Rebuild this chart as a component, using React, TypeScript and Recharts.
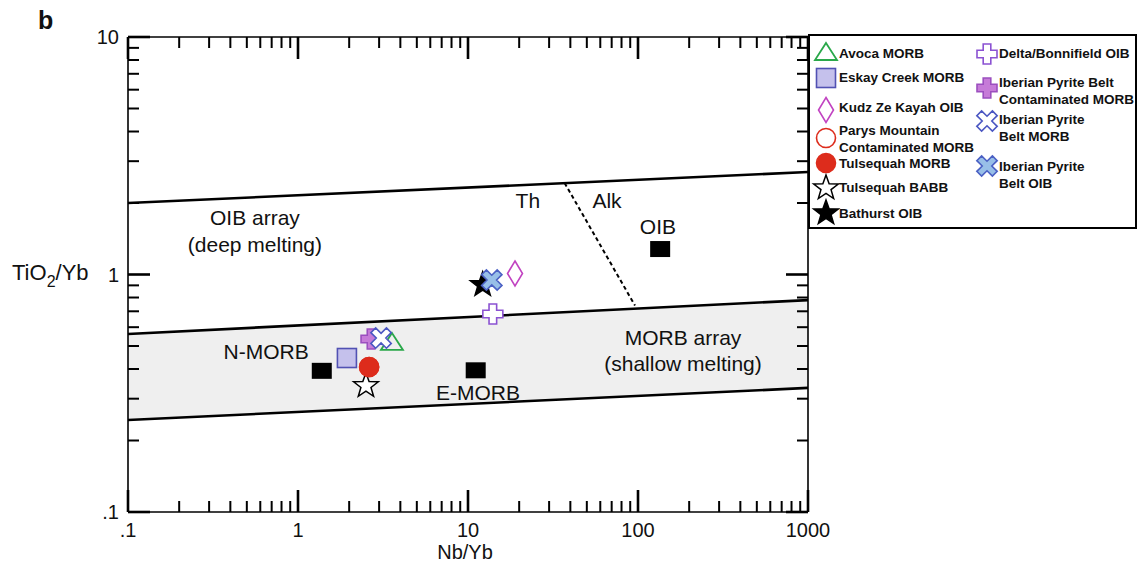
import React from 'react';
import { ComposedChart, XAxis, YAxis, Scatter, Line, Area } from 'recharts';

const FONT = '"Liberation Sans", Arial, Helvetica, sans-serif';

// tick values (log axes)
const xDecades = [0.1, 1, 10, 100];
const yDecades = [0.1, 1];
const multipliers = [1, 2, 3, 4, 5, 6, 7, 8, 9];
const xTicks = [...xDecades.flatMap((d) => multipliers.map((m) => +(d * m).toPrecision(3))), 1000];
const yTicks = [...yDecades.flatMap((d) => multipliers.map((m) => +(d * m).toPrecision(3))), 10];

// field boundaries
const oibArrayTop = [{ x: 0.1, y: 2.0 }, { x: 1000, y: 2.7 }];
const morbArrayTop = [{ x: 0.1, y: 0.562 }, { x: 1000, y: 0.78 }];
const morbArrayBottom = [{ x: 0.1, y: 0.244 }, { x: 1000, y: 0.333 }];
const morbBand = [{ x: 0.1, band: [0.244, 0.562] }, { x: 1000, band: [0.333, 0.78] }];
const thAlkDivide = [{ x: 37, y: 2.43 }, { x: 96, y: 0.74 }];

// reference compositions
const nMorb = [{ x: 1.38, y: 0.393 }];
const eMorb = [{ x: 11.1, y: 0.395 }];
const oib = [{ x: 135, y: 1.28 }];

// samples
const tulsequahBabb = [{ x: 2.51, y: 0.34 }];
const bathurstOib = [{ x: 12.2, y: 0.905 }];
const avocaMorb = [{ x: 3.57, y: 0.52 }];
const eskayCreekMorb = [{ x: 1.94, y: 0.445 }];
const kudzZeKayahOib = [{ x: 18.9, y: 1.01 }];
const parysMountain = [{ x: 2.62, y: 0.408 }];
const tulsequahMorb = [{ x: 2.62, y: 0.408 }];
const deltaBonnifieldOib = [{ x: 14.0, y: 0.682 }];
const iberianContMorb = [{ x: 2.69, y: 0.535 }];
const iberianMorb = [{ x: 3.08, y: 0.54 }];
const iberianOib = [{ x: 13.8, y: 0.948 }];

// text annotations
const fieldLabels = [
  { x: 22.5, y: 2.04, text: 'Th' },
  { x: 65.7, y: 2.04, text: 'Alk' },
  { x: 131, y: 1.585, text: 'OIB' },
  { x: 0.558, y: 1.73, text: 'OIB array' },
  { x: 0.558, y: 1.343, text: '(deep melting)' },
  { x: 0.649, y: 0.472, text: 'N-MORB' },
  { x: 184, y: 0.541, text: 'MORB array' },
  { x: 184, y: 0.42, text: '(shallow melting)' },
  { x: 11.45, y: 0.317, text: 'E-MORB' },
];

type Kind = 'ref' | 'square' | 'triangle' | 'diamond' | 'circle' | 'star' | 'cross' | 'x';

interface Style {
  kind: Kind;
  fill: string;
  stroke: string;
}

const starPoints = (cx: number, cy: number, R: number, r: number) => {
  const pts: string[] = [];
  for (let i = 0; i < 10; i++) {
    const a = -Math.PI / 2 + (i * Math.PI) / 5;
    const rad = i % 2 === 0 ? R : r;
    pts.push(`${cx + rad * Math.cos(a)},${cy + rad * Math.sin(a)}`);
  }
  return pts.join(' ');
};

const plusPoints = (cx: number, cy: number, s: number, a: number) =>
  [
    [-a, -s], [a, -s], [a, -a], [s, -a], [s, a], [a, a],
    [a, s], [-a, s], [-a, a], [-s, a], [-s, -a], [-a, -a],
  ]
    .map(([dx, dy]) => `${cx + dx},${cy + dy}`)
    .join(' ');

const Glyph = ({ kind, fill, stroke, cx, cy }: Style & { cx: number; cy: number }) => {
  switch (kind) {
    case 'ref':
      return <rect x={cx - 10} y={cy - 8} width={20} height={16} fill="#000" />;
    case 'square':
      return <rect x={cx - 9.5} y={cy - 9.5} width={19} height={19} fill={fill} stroke={stroke} strokeWidth={1.6} />;
    case 'triangle':
      return (
        <polygon
          points={`${cx},${cy - 9} ${cx + 11},${cy + 8} ${cx - 11},${cy + 8}`}
          fill={fill}
          stroke={stroke}
          strokeWidth={1.8}
        />
      );
    case 'diamond':
      return (
        <polygon
          points={`${cx},${cy - 12.5} ${cx + 7.5},${cy} ${cx},${cy + 12.5} ${cx - 7.5},${cy}`}
          fill={fill}
          stroke={stroke}
          strokeWidth={1.6}
        />
      );
    case 'circle':
      return <circle cx={cx} cy={cy} r={9.5} fill={fill} stroke={stroke} strokeWidth={1.6} />;
    case 'star':
      return <polygon points={starPoints(cx, cy, 13, 5.3)} fill={fill} stroke={stroke} strokeWidth={1.5} />;
    case 'cross':
      return <polygon points={plusPoints(cx, cy, 10, 3.8)} fill={fill} stroke={stroke} strokeWidth={1.6} />;
    case 'x':
      return (
        <polygon
          points={plusPoints(cx, cy, 11, 3.4)}
          transform={`rotate(45 ${cx} ${cy})`}
          fill={fill}
          stroke={stroke}
          strokeWidth={1.6}
        />
      );
    default:
      return null;
  }
};

const series: { name: string; data: { x: number; y: number }[]; style: Style }[] = [
  { name: 'N-MORB', data: nMorb, style: { kind: 'ref', fill: '#000', stroke: '#000' } },
  { name: 'E-MORB', data: eMorb, style: { kind: 'ref', fill: '#000', stroke: '#000' } },
  { name: 'OIB', data: oib, style: { kind: 'ref', fill: '#000', stroke: '#000' } },
  { name: 'Tulsequah BABB', data: tulsequahBabb, style: { kind: 'star', fill: '#fff', stroke: '#000' } },
  { name: 'Bathurst OIB', data: bathurstOib, style: { kind: 'star', fill: '#000', stroke: '#000' } },
  { name: 'Avoca MORB', data: avocaMorb, style: { kind: 'triangle', fill: 'none', stroke: '#2aa84a' } },
  { name: 'Eskay Creek MORB', data: eskayCreekMorb, style: { kind: 'square', fill: '#c5c1ec', stroke: '#5151b3' } },
  { name: 'Kudz Ze Kayah OIB', data: kudzZeKayahOib, style: { kind: 'diamond', fill: '#fff', stroke: '#c143c1' } },
  { name: 'Parys Mountain Contaminated MORB', data: parysMountain, style: { kind: 'circle', fill: '#fff', stroke: '#dd2c1c' } },
  { name: 'Tulsequah MORB', data: tulsequahMorb, style: { kind: 'circle', fill: '#dd2c1c', stroke: '#dd2c1c' } },
  { name: 'Delta/Bonnifield OIB', data: deltaBonnifieldOib, style: { kind: 'cross', fill: '#fff', stroke: '#8b52d2' } },
  { name: 'Iberian Pyrite Belt Contaminated MORB', data: iberianContMorb, style: { kind: 'cross', fill: '#c67bd8', stroke: '#9b4fbf' } },
  { name: 'Iberian Pyrite Belt MORB', data: iberianMorb, style: { kind: 'x', fill: '#fff', stroke: '#4b57c2' } },
  { name: 'Iberian Pyrite Belt OIB', data: iberianOib, style: { kind: 'x', fill: '#98bfe8', stroke: '#4b60c4' } },
];

const styleOf = (name: string) => series.find((s) => s.name === name)!.style;

// legend layout: marker centre / first text line centre, relative to the legend box
const legendItems = [
  { name: 'Avoca MORB', lines: ['Avoca MORB'], col: 0, my: 16, ty: 18 },
  { name: 'Eskay Creek MORB', lines: ['Eskay Creek MORB'], col: 0, my: 42, ty: 42 },
  { name: 'Kudz Ze Kayah OIB', lines: ['Kudz Ze Kayah OIB'], col: 0, my: 74, ty: 72 },
  { name: 'Parys Mountain Contaminated MORB', lines: ['Parys Mountain', 'Contaminated MORB'], col: 0, my: 102, ty: 95 },
  { name: 'Tulsequah MORB', lines: ['Tulsequah MORB'], col: 0, my: 127, ty: 128 },
  { name: 'Tulsequah BABB', lines: ['Tulsequah BABB'], col: 0, my: 152, ty: 152 },
  { name: 'Bathurst OIB', lines: ['Bathurst OIB'], col: 0, my: 177, ty: 178 },
  { name: 'Delta/Bonnifield OIB', lines: ['Delta/Bonnifield OIB'], col: 1, my: 18, ty: 18 },
  { name: 'Iberian Pyrite Belt Contaminated MORB', lines: ['Iberian Pyrite Belt', 'Contaminated MORB'], col: 1, my: 52, ty: 47 },
  { name: 'Iberian Pyrite Belt MORB', lines: ['Iberian Pyrite', 'Belt MORB'], col: 1, my: 85, ty: 84 },
  { name: 'Iberian Pyrite Belt OIB', lines: ['Iberian Pyrite', 'Belt OIB'], col: 1, my: 130, ty: 131 },
];

const isMajor = (v: number) => Math.abs(Math.log10(v) - Math.round(Math.log10(v))) < 1e-6;
const fmt = (v: number) => (v < 1 ? String(v).replace(/^0/, '') : String(v));

const tickText = { fontFamily: FONT, fontSize: 20, fill: '#111' };

const BottomTick = (p: any) => {
  const v = p.payload.value;
  const major = isMajor(v);
  return (
    <g>
      <line x1={p.x} y1={p.y} x2={p.x} y2={p.y - (major ? 22 : 11)} stroke="#000" strokeWidth={major ? 2.6 : 2} />
      {major && (
        <text x={p.x} y={p.y + 25} textAnchor="middle" {...tickText}>
          {fmt(v)}
        </text>
      )}
    </g>
  );
};

const TopTick = (p: any) => {
  const major = isMajor(p.payload.value);
  return <line x1={p.x} y1={p.y} x2={p.x} y2={p.y + (major ? 22 : 11)} stroke="#000" strokeWidth={major ? 2.6 : 2} />;
};

const LeftTick = (p: any) => {
  const v = p.payload.value;
  const major = isMajor(v);
  return (
    <g>
      <line x1={p.x} y1={p.y} x2={p.x + (major ? 22 : 11)} y2={p.y} stroke="#000" strokeWidth={major ? 2.6 : 2} />
      {major && (
        <text x={p.x - 9} y={p.y + 7} textAnchor="end" {...tickText}>
          {fmt(v)}
        </text>
      )}
    </g>
  );
};

const RightTick = (p: any) => {
  const major = isMajor(p.payload.value);
  return <line x1={p.x} y1={p.y} x2={p.x - (major ? 22 : 11)} y2={p.y} stroke="#000" strokeWidth={major ? 2.6 : 2} />;
};

const axisLine = { stroke: '#000', strokeWidth: 1.6 };

const App = () => {
  return (
    <div style={{ position: 'relative', width: 1129, height: 556, fontFamily: FONT }}>
      <div style={{ position: 'absolute', left: 30, top: 0, fontSize: 25, lineHeight: '25px', fontWeight: 'bold', color: '#111' }}>
        b
      </div>
      <ComposedChart width={1129} height={556} margin={{ top: 28, right: 328, bottom: 51, left: 119 }}>
        <XAxis
          xAxisId="bottom"
          dataKey="x"
          type="number"
          scale="log"
          domain={[0.1, 1000]}
          allowDataOverflow
          ticks={xTicks}
          interval={0}
          height={1}
          tickSize={0}
          tickMargin={0}
          tick={BottomTick}
          axisLine={axisLine}
          label={{
            content: (props: any) => {
              const vb = props.viewBox;
              return (
                <text x={vb.x + vb.width / 2 - 3} y={vb.y + 47} textAnchor="middle" fontFamily={FONT} fontSize={20} fill="#111">
                  Nb/Yb
                </text>
              );
            },
          }}
        />
        <XAxis
          xAxisId="top"
          orientation="top"
          dataKey="x"
          type="number"
          scale="log"
          domain={[0.1, 1000]}
          allowDataOverflow
          ticks={xTicks}
          interval={0}
          height={1}
          tickSize={0}
          tickMargin={0}
          tick={TopTick}
          axisLine={axisLine}
        />
        <YAxis
          yAxisId="left"
          dataKey="y"
          type="number"
          scale="log"
          domain={[0.1, 10]}
          allowDataOverflow
          ticks={yTicks}
          interval={0}
          width={1}
          tickSize={0}
          tickMargin={0}
          tick={LeftTick}
          axisLine={axisLine}
          label={{
            content: (props: any) => {
              const vb = props.viewBox;
              return (
                <text x={vb.x - 115} y={vb.y + vb.height / 2 + 5} fontFamily={FONT} fontSize={22} fill="#111">
                  TiO
                  <tspan dy={7} fontSize={16}>2</tspan>
                  <tspan dy={-7}>/Yb</tspan>
                </text>
              );
            },
          }}
        />
        <YAxis
          yAxisId="right"
          orientation="right"
          dataKey="y"
          type="number"
          scale="log"
          domain={[0.1, 10]}
          allowDataOverflow
          ticks={yTicks}
          interval={0}
          width={1}
          tickSize={0}
          tickMargin={0}
          tick={RightTick}
          axisLine={axisLine}
        />

        <Area
          xAxisId="bottom"
          yAxisId="left"
          data={morbBand}
          dataKey="band"
          type="linear"
          fill="#efefef"
          fillOpacity={1}
          stroke="none"
          isAnimationActive={false}
        />
        {[oibArrayTop, morbArrayTop, morbArrayBottom].map((d, i) => (
          <Line
            key={i}
            xAxisId="bottom"
            yAxisId="left"
            data={d}
            dataKey="y"
            type="linear"
            stroke="#000"
            strokeWidth={2.6}
            dot={false}
            isAnimationActive={false}
          />
        ))}
        <Line
          xAxisId="bottom"
          yAxisId="left"
          data={thAlkDivide}
          dataKey="y"
          type="linear"
          stroke="#000"
          strokeWidth={2}
          strokeDasharray="4 3"
          dot={false}
          isAnimationActive={false}
        />

        <Scatter
          xAxisId="bottom"
          yAxisId="left"
          data={fieldLabels}
          isAnimationActive={false}
          shape={(p: any) => (
            <text x={p.cx} y={p.cy} textAnchor="middle" dominantBaseline="central" fontFamily={FONT} fontSize={21} fill="#111">
              {p.payload.text}
            </text>
          )}
        />

        {series.map((s) => (
          <Scatter
            key={s.name}
            name={s.name}
            xAxisId="bottom"
            yAxisId="left"
            data={s.data}
            isAnimationActive={false}
            shape={(p: any) => <Glyph {...s.style} cx={p.cx} cy={p.cy} />}
          />
        ))}
      </ComposedChart>

      <div
        style={{
          position: 'absolute',
          left: 800,
          top: 26,
          width: 325,
          height: 191,
          border: '2px solid #000',
          background: '#fff',
        }}
      >
        {legendItems.map((it) => {
          const mx = it.col === 0 ? 16 : 177;
          const tx = it.col === 0 ? 29 : 189;
          return (
            <React.Fragment key={it.name}>
              <svg width={30} height={30} style={{ position: 'absolute', left: mx - 15, top: it.my - 15 }}>
                <Glyph {...styleOf(it.name)} cx={15} cy={15} />
              </svg>
              <div
                style={{
                  position: 'absolute',
                  left: tx,
                  top: it.ty - 9,
                  fontSize: 13.5,
                  lineHeight: '17px',
                  fontWeight: 'bold',
                  color: '#111',
                  whiteSpace: 'nowrap',
                }}
              >
                {it.lines.map((l) => (
                  <div key={l}>{l}</div>
                ))}
              </div>
            </React.Fragment>
          );
        })}
      </div>
    </div>
  );
};

export default App;
